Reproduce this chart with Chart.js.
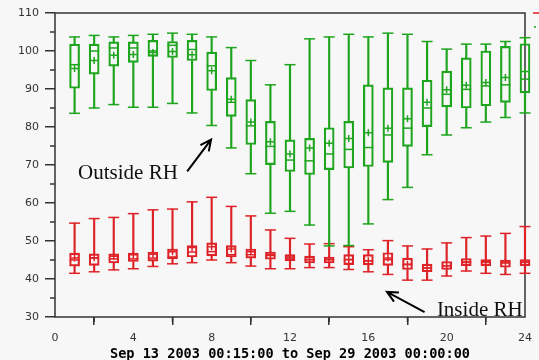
<!DOCTYPE html>
<html>
<head>
<meta charset="utf-8">
<script src="https://cdn.jsdelivr.net/npm/chart.js@4.4.0/dist/chart.umd.min.js"></script>
<style>
    html, body { margin: 0; padding: 0; background: #f7f7f7; }
    #wrap { width: 539px; height: 360px; }
</style>
</head>
<body>
<div id="wrap"><canvas id="myChart" width="539" height="360"></canvas></div>
<script>
// hour of day, Sep 13 - Sep 29 2003
let hours = [1, 2, 3, 4, 5, 6, 7, 8, 9, 10, 11, 12, 13, 14, 15, 16, 17, 18, 19, 20, 21, 22, 23, 24];

// outside RH (green)
let outsideLow    = [83.6, 85.0, 85.9, 85.2, 85.2, 86.2, 83.7, 80.4, 74.5, 67.7, 57.3, 57.8, 54.2, 48.7, 48.8, 54.5, 60.9, 64.1, 72.7, 77.9, 79.8, 81.3, 82.5, 83.7];
let outsideQ1     = [90.2, 93.9, 96.0, 97.0, 98.6, 98.3, 97.5, 89.6, 82.8, 75.4, 70.1, 68.3, 67.5, 68.8, 69.2, 69.6, 70.7, 74.9, 80.1, 85.3, 85.0, 85.6, 86.5, 89.0];
let outsideMedian = [96.4, 100.0, 100.8, 100.8, 100.0, 101.5, 100.4, 96.1, 86.5, 80.3, 74.9, 71.3, 71.1, 72.9, 74.1, 74.6, 77.9, 79.7, 85.0, 88.6, 89.9, 90.8, 91.1, 92.6];
let outsideMean   = [95.4, 97.5, 98.9, 99.1, 99.6, 99.9, 99.0, 94.8, 87.3, 81.3, 76.1, 72.9, 74.5, 75.7, 77.0, 78.5, 79.7, 82.2, 86.5, 89.8, 91.0, 91.7, 93.0, 94.6];
let outsideQ3     = [101.8, 101.8, 102.4, 102.4, 102.8, 102.5, 102.8, 99.7, 93.0, 87.2, 81.5, 76.6, 77.0, 79.8, 81.5, 91.1, 90.3, 90.3, 92.3, 94.7, 98.2, 100.0, 101.2, 101.9];
let outsideHigh   = [103.7, 104.1, 103.7, 104.1, 104.4, 104.7, 104.4, 103.7, 100.9, 97.5, 91.1, 96.4, 103.2, 103.7, 104.4, 103.7, 104.7, 104.4, 102.5, 100.5, 101.8, 101.8, 102.5, 103.5];

// inside RH (red)
let insideLow    = [41.5, 41.9, 42.4, 42.7, 43.3, 44.0, 44.3, 45.0, 44.3, 43.4, 42.7, 42.7, 43.0, 43.0, 42.5, 41.9, 41.2, 39.7, 39.7, 40.8, 42.1, 41.5, 41.2, 41.5];
let insideQ1     = [43.4, 43.6, 44.2, 44.6, 44.7, 45.3, 45.8, 46.1, 45.8, 45.5, 45.2, 44.8, 44.2, 44.2, 43.8, 43.7, 43.6, 42.5, 41.9, 42.5, 43.5, 43.5, 43.1, 43.5];
let insideMedian = [45.0, 45.5, 45.3, 45.3, 45.5, 45.8, 47.1, 47.2, 46.4, 46.4, 46.2, 45.5, 45.1, 45.1, 45.1, 44.8, 45.1, 43.8, 42.9, 43.5, 44.5, 44.5, 44.2, 44.4];
let insideMean   = [45.5, 45.6, 46.0, 46.4, 46.5, 47.2, 48.3, 48.5, 47.9, 47.2, 46.4, 45.8, 45.1, 45.1, 45.1, 44.8, 45.5, 43.9, 42.9, 43.5, 44.5, 44.5, 44.5, 44.8];
let insideQ3     = [46.8, 46.6, 46.6, 46.8, 47.1, 47.9, 48.8, 49.5, 48.8, 47.9, 47.1, 46.4, 46.0, 45.8, 46.4, 46.4, 46.9, 45.5, 43.9, 44.6, 45.4, 45.1, 45.0, 45.1];
let insideHigh   = [54.7, 55.9, 56.2, 57.2, 58.2, 58.4, 60.3, 61.5, 59.1, 56.6, 52.9, 50.7, 49.2, 49.3, 48.5, 47.7, 50.1, 48.7, 47.9, 49.5, 50.9, 51.3, 52.0, 53.8];

let xTitle = 'Sep 13 2003 00:15:00 to Sep 29 2003 00:00:00';

let green = 'rgb(30,165,30)';
let red = 'rgb(222,35,40)';

function pairs(a, b) {
    return hours.map((h, i) => ({x: h, y: [a[i], b[i]]}));
}
function pts(a) {
    return hours.map((h, i) => ({x: h, y: a[i]}));
}

// one set of datasets for a box plot series
function boxSeries(color, low, q1, med, mean, q3, high) {
    let bar = {type: 'bar', grouped: false, borderSkipped: false, clip: false};
    let pt = {type: 'scatter', showLine: false, clip: false, backgroundColor: color, borderColor: color, borderWidth: 1.5};
    return [
        Object.assign({}, bar, {data: pairs(low, q1), backgroundColor: color, barThickness: 1.5, borderWidth: 0}),
        Object.assign({}, bar, {data: pairs(q3, high), backgroundColor: color, barThickness: 1.5, borderWidth: 0}),
        Object.assign({}, bar, {data: pairs(q1, q3), backgroundColor: 'rgba(0,0,0,0)', borderColor: color, borderWidth: 1.5, barThickness: 10}),
        Object.assign({}, pt, {data: pts(low), pointStyle: 'line', pointRadius: 5.5}),
        Object.assign({}, pt, {data: pts(high), pointStyle: 'line', pointRadius: 5.5}),
        Object.assign({}, pt, {data: pts(med), pointStyle: 'line', pointRadius: 5}),
        Object.assign({}, pt, {data: pts(mean), pointStyle: 'cross', pointRadius: 3.5})
    ];
}

// minor ticks, frame and the two text notes
let decorPlugin = {
    id: 'decor',
    beforeDatasetsDraw(chart) {
        let c = chart.ctx, a = chart.chartArea;
        let xs = chart.scales.x, ys = chart.scales.y;
        c.save();
        c.strokeStyle = '#333';
        c.lineWidth = 1.5;
        c.strokeRect(a.left, a.top, a.right - a.left, a.bottom - a.top);
        c.beginPath();
        for (let v = 2; v < 24; v += 4) {
            let px = xs.getPixelForValue(v);
            c.moveTo(px, a.bottom); c.lineTo(px, a.bottom + 5);
        }
        for (let v = 35; v < 110; v += 10) {
            let py = ys.getPixelForValue(v);
            c.moveTo(a.left - 5, py); c.lineTo(a.left, py);
        }
        c.stroke();
        c.restore();
    },
    afterDraw(chart) {
        let c = chart.ctx, a = chart.chartArea;
        let xs = chart.scales.x, ys = chart.scales.y;
        c.save();
        // cut off legend marks at the right edge
        c.lineWidth = 1.5;
        c.strokeStyle = red;
        c.beginPath(); c.moveTo(533, a.top); c.lineTo(539, a.top); c.stroke();
        c.strokeStyle = green;
        c.beginPath(); c.moveTo(534, 27); c.lineTo(536, 27); c.stroke();

        // notes
        c.fillStyle = '#111';
        c.font = '21px "Liberation Serif", serif';
        c.textBaseline = 'alphabetic';
        c.fillText('Outside RH', xs.getPixelForValue(1.18), ys.getPixelForValue(66.3));
        c.fillText('Inside RH', xs.getPixelForValue(19.5), ys.getPixelForValue(30.3));

        c.strokeStyle = '#000';
        c.lineWidth = 2;
        arrow(c, xs.getPixelForValue(6.75), ys.getPixelForValue(68.3), xs.getPixelForValue(7.97), ys.getPixelForValue(76.7));
        arrow(c, xs.getPixelForValue(18.87), ys.getPixelForValue(31.3), xs.getPixelForValue(16.95), ys.getPixelForValue(36.6));
        c.restore();
    }
};

function arrow(c, x1, y1, x2, y2) {
    let ang = Math.atan2(y2 - y1, x2 - x1);
    let len = 12;
    c.beginPath();
    c.moveTo(x1, y1); c.lineTo(x2, y2);
    c.moveTo(x2 - len * Math.cos(ang - 0.45), y2 - len * Math.sin(ang - 0.45));
    c.lineTo(x2, y2);
    c.lineTo(x2 - len * Math.cos(ang + 0.45), y2 - len * Math.sin(ang + 0.45));
    c.stroke();
}

let ctx = document.getElementById('myChart').getContext('2d');
let chart = new Chart(ctx, {
    type: 'bar',
    data: {
        datasets: boxSeries(green, outsideLow, outsideQ1, outsideMedian, outsideMean, outsideQ3, outsideHigh)
            .concat(boxSeries(red, insideLow, insideQ1, insideMedian, insideMean, insideQ3, insideHigh))
    },
    options: {
        responsive: false,
        animation: false,
        events: [],
        layout: {padding: {top: 13, right: 12, left: 0, bottom: 0}},
        plugins: {legend: {display: false}, tooltip: {enabled: false}},
        scales: {
            x: {
                type: 'linear',
                min: 0, max: 24,
                offset: false,
                grid: {drawOnChartArea: false, tickLength: 8, color: '#333', lineWidth: 1.5},
                border: {display: false},
                ticks: {stepSize: 4, padding: 7, color: '#333', font: {family: '"DejaVu Sans"', size: 11}, maxRotation: 0},
                title: {display: true, text: xTitle, color: '#000', padding: 0,
                        font: {family: '"DejaVu Sans Mono"', size: 13.6, weight: 'bold', lineHeight: 0.8}},
                afterFit(scale) { scale.height = 43; }
            },
            y: {
                min: 30, max: 110,
                grid: {drawOnChartArea: false, tickLength: 10, color: '#333', lineWidth: 1.5},
                border: {display: false},
                ticks: {stepSize: 10, padding: 6, color: '#333', font: {family: '"DejaVu Sans"', size: 11}},
                afterFit(scale) { scale.width = 55; }
            }
        }
    },
    plugins: [decorPlugin]
});
</script>
</body>
</html>
